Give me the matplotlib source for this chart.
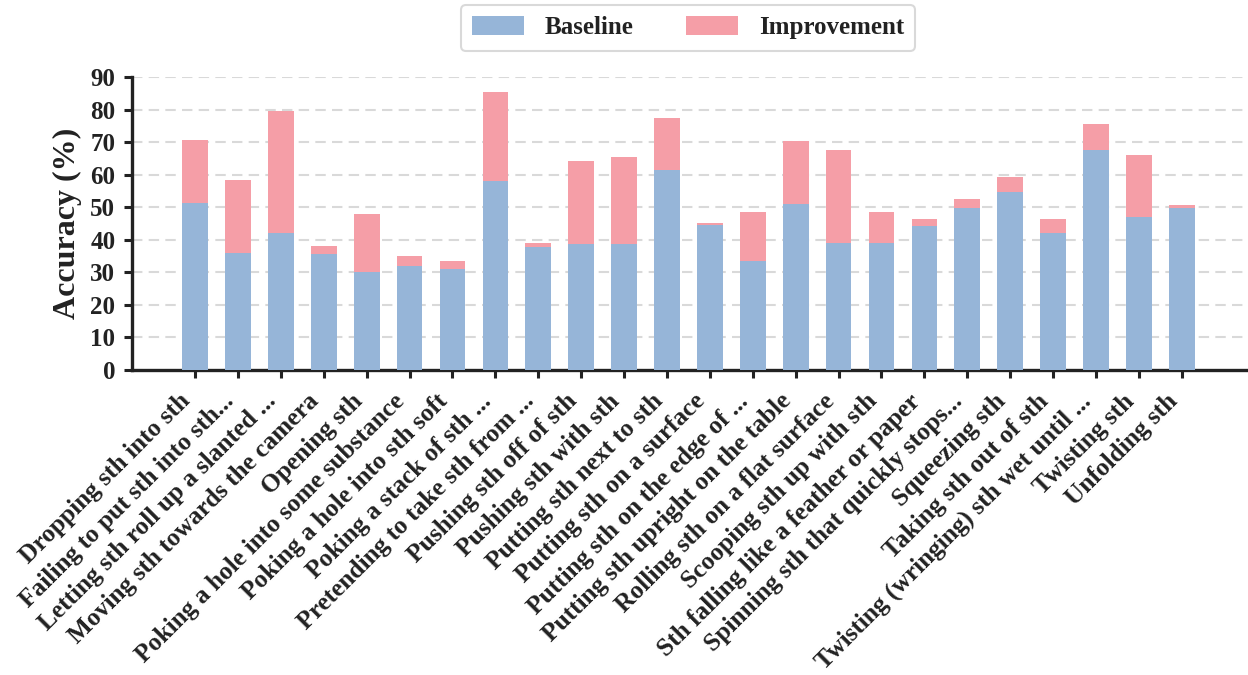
import matplotlib
matplotlib.use("Agg")
import matplotlib.pyplot as plt
import numpy as np

plt.rcParams['font.family'] = ['Liberation Serif', 'DejaVu Serif']
plt.rcParams['font.weight'] = 'bold'

categories = [
    "Dropping sth into sth",
    "Failing to put sth into sth...",
    "Letting sth roll up a slanted ...",
    "Moving sth towards the camera",
    "Opening sth",
    "Poking a hole into some substance",
    "Poking a hole into sth soft",
    "Poking a stack of sth ...",
    "Pretending to take sth from ...",
    "Pushing sth off of sth",
    "Pushing sth with sth",
    "Putting sth next to sth",
    "Putting sth on a surface",
    "Putting sth on the edge of ...",
    "Putting sth upright on the table",
    "Rolling sth on a flat surface",
    "Scooping sth up with sth",
    "Sth falling like a feather or paper",
    "Spinning sth that quickly stops...",
    "Squeezing sth",
    "Taking sth out of sth",
    "Twisting (wringing) sth wet until ...",
    "Twisting sth",
    "Unfolding sth",
]
baseline = [51.3, 35.9, 42.1, 35.6, 30.0, 31.9, 31.0, 58.2, 37.8, 38.7, 38.7, 61.5,
            44.5, 33.4, 51.0, 39.1, 39.1, 44.2, 49.8, 54.7, 42.1, 67.7, 47.0, 49.8]
total = [70.5, 58.5, 79.5, 38.0, 47.9, 35.0, 33.4, 85.4, 39.0, 64.3, 65.3, 77.3,
         45.2, 48.6, 70.2, 67.7, 48.6, 46.4, 52.6, 59.4, 46.4, 75.5, 65.9, 50.7]
improvement = [t - b for t, b in zip(total, baseline)]

blue = '#96B5D8'
pink = '#F59EA7'
dark = '#222222'

fig = plt.figure(figsize=(12.48, 6.75), dpi=100)
ax = fig.add_axes([132/1248, 1 - 370/675, (1247-132)/1248, (370-77)/675])

x = np.arange(len(categories))
ax.bar(x, baseline, width=0.6, color=blue, label='Baseline', zorder=3)
ax.bar(x, improvement, width=0.6, bottom=baseline, color=pink, label='Improvement', zorder=3)

ax.set_xlim(-1.47, 24.52)
ax.set_ylim(0, 90)
ax.set_yticks(np.arange(0, 91, 10))
ax.yaxis.grid(True, linestyle=(0, (5, 3)), color='#d9d9d9', linewidth=1.5, zorder=0)
ax.set_axisbelow(True)

for s in ['top', 'right']:
    ax.spines[s].set_visible(False)
for s in ['left', 'bottom']:
    ax.spines[s].set_linewidth(2.4)
    ax.spines[s].set_color(dark)

ax.tick_params(axis='both', direction='out', length=6, width=2.2, color=dark,
               labelsize=18, labelcolor=dark)
ax.tick_params(axis='y', pad=6)
ax.tick_params(axis='x', pad=8, labelsize=18.3)
ax.set_xticks(x)
ax.set_xticklabels(categories, rotation=45, ha='right', fontweight='bold')
for lab in ax.get_yticklabels():
    lab.set_fontweight('bold')

ax.set_ylabel('Accuracy (%)', fontsize=23, fontweight='bold', color=dark, labelpad=6)

leg = fig.legend(loc='upper center', bbox_to_anchor=(688/1248, 1 - 5/675), ncol=2,
                 prop={'family': 'Liberation Serif', 'weight': 'bold', 'size': 18},
                 frameon=True, fancybox=True, handlelength=2.08, handleheight=0.76,
                 columnspacing=2.08, handletextpad=0.84, borderpad=0.45,
                 borderaxespad=0)
leg.get_frame().set_edgecolor('#d0d0d0')
leg.get_frame().set_linewidth(1.5)
for t in leg.get_texts():
    t.set_color(dark)

fig.savefig('out.png', dpi=100)
